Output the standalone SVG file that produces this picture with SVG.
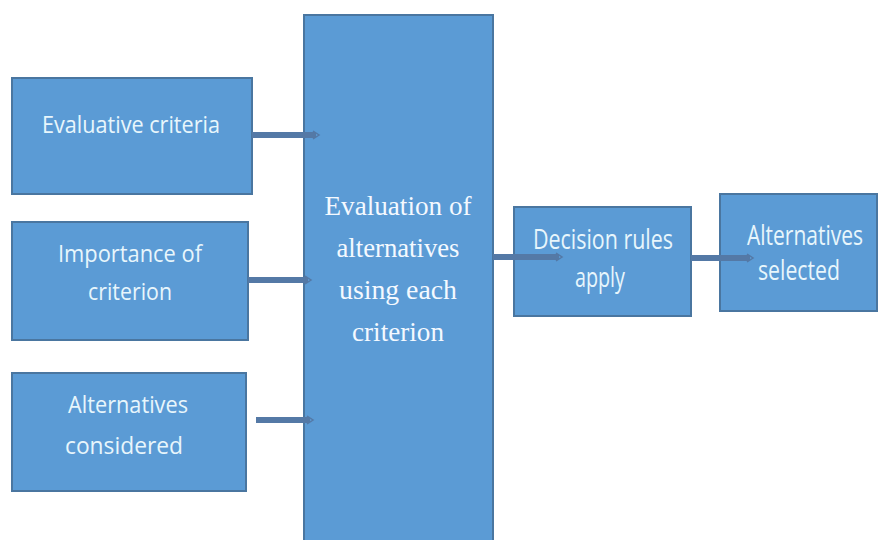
<svg xmlns="http://www.w3.org/2000/svg" width="887" height="540" viewBox="0 0 887 540">
<defs>
<style>
.box{fill:#5b9bd5;stroke:#4a76a0;stroke-width:2}
.t{font-family:"Open Sans","Liberation Sans",sans-serif;font-size:24px;fill:#e8f6fc;text-anchor:middle}
.b{font-size:27px}
.s{font-family:"Liberation Serif",serif;font-size:28px;fill:#f4f9ff;text-anchor:middle}
.c{stroke:#5479a6;stroke-width:6;fill:none}
.h{stroke:#5479a6;stroke-width:1.5;fill:none}
</style>
</defs>
<rect width="887" height="540" fill="#ffffff"/>
<g id="central"><rect class="box" x="304" y="15" width="189" height="540"/>
<text class="s" x="398" y="215" textLength="147" lengthAdjust="spacingAndGlyphs">Evaluation of</text>
<text class="s" x="398" y="257" textLength="123" lengthAdjust="spacingAndGlyphs">alternatives</text>
<text class="s" x="398" y="299" textLength="118" lengthAdjust="spacingAndGlyphs">using each</text>
<text class="s" x="398" y="341" textLength="92" lengthAdjust="spacingAndGlyphs">criterion</text></g>
<g id="criteria"><rect class="box" x="12" y="78" width="240" height="116"/>
<text class="t" x="131" y="133" textLength="178" lengthAdjust="spacingAndGlyphs">Evaluative criteria</text></g>
<g id="importance"><rect class="box" x="12" y="222" width="236" height="118"/>
<text class="t" x="130" y="262" textLength="144" lengthAdjust="spacingAndGlyphs">Importance of</text>
<text class="t" x="130" y="300" textLength="84" lengthAdjust="spacingAndGlyphs">criterion</text></g>
<g id="considered"><rect class="box" x="12" y="373" width="234" height="118"/>
<text class="t" x="128" y="413" textLength="120" lengthAdjust="spacingAndGlyphs">Alternatives</text>
<text class="t" x="124" y="454" textLength="118" lengthAdjust="spacingAndGlyphs">considered</text></g>
<g id="decision"><rect class="box" x="514" y="207" width="177" height="109"/>
<text class="t b" x="603" y="249" textLength="140" lengthAdjust="spacingAndGlyphs">Decision rules</text>
<text class="t b" x="600" y="287" textLength="50" lengthAdjust="spacingAndGlyphs">apply</text></g>
<g id="selected"><rect class="box" x="720" y="194" width="157" height="117"/>
<text class="t b" x="805" y="245" textLength="116" lengthAdjust="spacingAndGlyphs">Alternatives</text>
<text class="t b" x="799" y="280" textLength="82" lengthAdjust="spacingAndGlyphs">selected</text></g>
<g id="connectors">
<line class="c" x1="252" y1="135" x2="316" y2="135"/><path class="h" d="M313 131 L319 135 L313 139"/>
<line class="c" x1="248" y1="280" x2="308" y2="280"/><path class="h" d="M305 276 L311 280 L305 284"/>
<line class="c" x1="256" y1="420" x2="310" y2="420"/><path class="h" d="M307 416 L313 420 L307 424"/>
<line class="c" x1="493" y1="257" x2="559" y2="257"/><path class="h" d="M556 253 L562 257 L556 261"/>
<line class="c" x1="691" y1="258" x2="750" y2="258"/><path class="h" d="M747 254 L753 258 L747 262"/>
</g>
</svg>
